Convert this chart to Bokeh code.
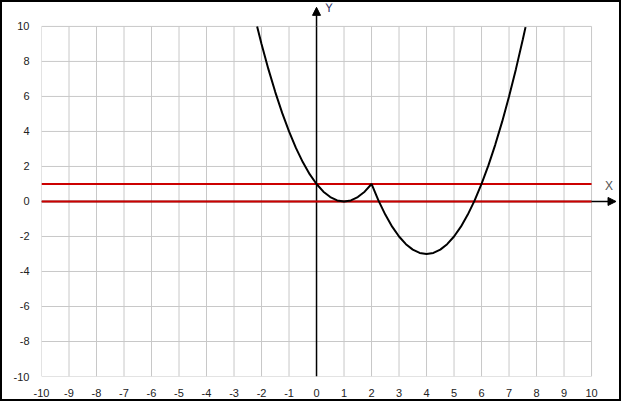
from bokeh.plotting import figure
from bokeh.layouts import column
from bokeh.models import (Range1d, FixedTicker, Arrow, NormalHead, Label,
                          CustomJSTickFormatter)
from bokeh.embed import file_html
from bokeh.resources import INLINE

# ---- data ----
x_ticks = list(range(-10, 11))
y_ticks = list(range(-10, 11, 2))
x_lo, x_hi = -10, 10
y_lo, y_hi = -10, 10

curve_x = [-2.16, -2.0, -1.75, -1.5, -1.25, -1.0, -0.75, -0.5, -0.25, 0.0,
           0.25, 0.5, 0.75, 1.0, 1.25, 1.5, 1.75, 2.0,
           2.25, 2.5, 2.75, 3.0, 3.25, 3.5, 3.75, 4.0, 4.25, 4.5, 4.75,
           5.0, 5.25, 5.5, 5.75, 6.0, 6.25, 6.5, 6.75, 7.0, 7.25, 7.5, 7.6]
curve_y = [9.99, 9.0, 7.56, 6.25, 5.06, 4.0, 3.06, 2.25, 1.56, 1.0,
           0.56, 0.25, 0.06, 0.0, 0.06, 0.25, 0.56, 1.0,
           0.06, -0.75, -1.44, -2.0, -2.44, -2.75, -2.94, -3.0, -2.94, -2.75, -2.44,
           -2.0, -1.44, -0.75, 0.06, 1.0, 2.06, 3.25, 4.56, 6.0, 7.56, 9.25, 9.96]
red_levels = [1, 0]

FONT = "Liberation Sans"

# frame extends past 10 on top/right so arrows and axis names can be drawn
p = figure(width=617, height=397, output_backend="svg", toolbar_location=None,
           x_range=Range1d(-10, 10.98), y_range=Range1d(-10, 11.31),
           min_border_left=39, min_border_right=1, min_border_top=1,
           min_border_bottom=23, background_fill_color="white",
           border_fill_color="white")
p.outline_line_color = None
p.xgrid.visible = False
p.ygrid.visible = False

for ax in (p.xaxis[0], p.yaxis[0]):
    ax.axis_line_color = None
    ax.major_tick_line_color = None
    ax.minor_tick_line_color = None
    ax.major_label_text_font = FONT
    ax.major_label_text_font_size = "11px"
    ax.major_label_text_color = "#222222"
    ax.formatter = CustomJSTickFormatter(code="return tick.toString()")
p.xaxis[0].ticker = FixedTicker(ticks=x_ticks)
p.yaxis[0].ticker = FixedTicker(ticks=y_ticks)
p.xaxis[0].major_label_standoff = 6
p.yaxis[0].major_label_standoff = 6

# grid lines limited to the [-10, 10] square
p.segment(x0=x_ticks, y0=[y_lo] * len(x_ticks), x1=x_ticks, y1=[y_hi] * len(x_ticks),
          line_color="#c8c8c8", line_width=1)
p.segment(x0=[x_lo] * len(y_ticks), y0=y_ticks, x1=[x_hi] * len(y_ticks), y1=y_ticks,
          line_color="#c8c8c8", line_width=1)

# coordinate axes inside the square (drawn under the red lines)
p.segment(x0=[0, x_lo], y0=[y_lo, 0], x1=[0, x_hi], y1=[y_hi, 0],
          line_color="black", line_width=1.5)

# red horizontal lines
p.segment(x0=[x_lo] * len(red_levels), y0=red_levels, x1=[x_hi] * len(red_levels),
          y1=red_levels, line_color="#cc0000", line_width=2)

p.line(curve_x, curve_y, line_color="black", line_width=2)

# arrow tips outside the square
head = dict(size=8, fill_color="black", line_color="black")
p.add_layout(Arrow(x_start=0, y_start=y_hi, x_end=0, y_end=11.09,
                   line_color="black", line_width=1.5, end=NormalHead(**head)))
p.add_layout(Arrow(x_start=x_hi, y_start=0, x_end=10.89, y_end=0,
                   line_color="black", line_width=1.5, end=NormalHead(**head)))

p.add_layout(Label(x=0.31, y=11.03, text="Y", text_font=FONT, text_font_size="12px",
                   text_color="#333366", text_baseline="middle"))
p.add_layout(Label(x=10.49, y=0.86, text="X", text_font=FONT, text_font_size="12px",
                   text_color="#555555", text_baseline="middle"))

page = column(p, styles={"border": "2px solid black"})

open("out.html", "w").write(file_html(page, INLINE))
